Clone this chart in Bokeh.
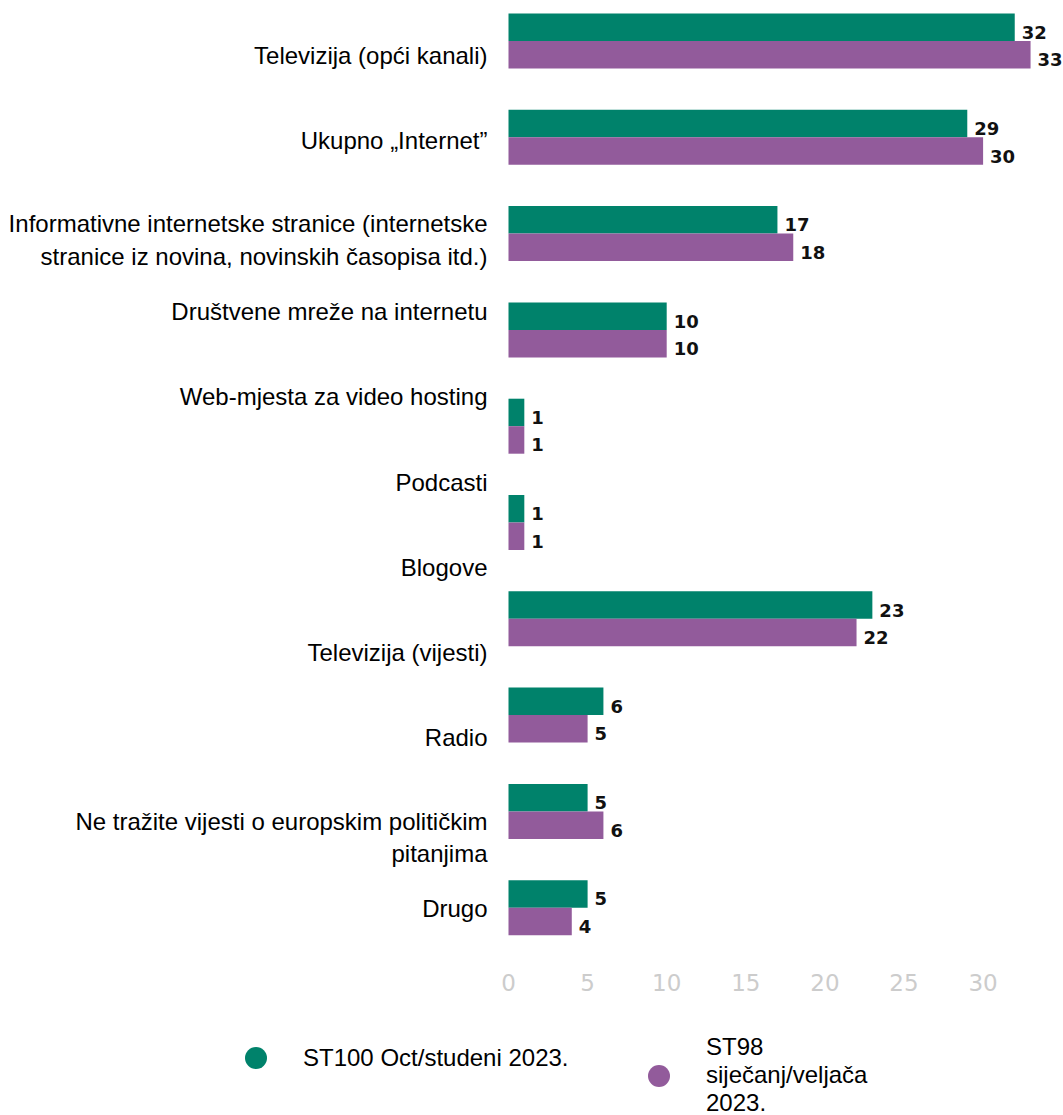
from bokeh.plotting import figure
from bokeh.models import ColumnDataSource, Range1d, Legend, LegendItem
from bokeh.transform import dodge
from bokeh.core.properties import value
from bokeh.embed import file_html
from bokeh.resources import INLINE

# ---------------- data ----------------
bar_groups = [
    "Televizija (opći kanali)",
    "Ukupno „Internet”",
    "Informativne internetske stranice",
    "Društvene mreže na internetu",
    "Web-mjesta za video hosting",
    "Podcasti",
    "Televizija (vijesti)",
    "Radio",
    "Ne tražite vijesti o europskim političkim pitanjima",
    "Drugo",
]
st100 = [32, 29, 17, 10, 1, 1, 23, 6, 5, 5]
st98 = [33, 30, 18, 10, 1, 1, 22, 5, 6, 4]

axis_labels = [
    "Televizija (opći kanali)",
    "Ukupno „Internet”",
    "Informativne internetske stranice (internetske\nstranice iz novina, novinskih časopisa itd.)",
    "Društvene mreže na internetu",
    "Web-mjesta za video hosting",
    "Podcasti",
    "Blogove",
    "Televizija (vijesti)",
    "Radio",
    "Ne tražite vijesti o europskim političkim\npitanjima",
    "Drugo",
]
x_ticks = [0, 5, 10, 15, 20, 25, 30]
series_names = ["ST100 Oct/studeni 2023.", "ST98\nsiječanj/veljača\n2023."]
colors = ["#00826b", "#925b9b"]

# ---------------- layout constants (pixels) ----------------
W, H = 1063, 1115
LEFT = 508          # x pixel of the value 0
PX_PER_UNIT = 15.82
FIRST_BAR_TOP = 13
STEP = 96.3         # px between bar groups
BAR_H = 27.5        # px per bar
LABEL_FIRST = 55    # px of first category label line
LABEL_STEP = 85.3   # px between label slots
LINE_SHIFT = 14     # px shift for two-line labels
TICK_Y = 982        # px of the value-axis labels

c0 = FIRST_BAR_TOP + BAR_H          # pixel of group 0 centre


def ypix(px):
    return (px - c0) / STEP         # pixel -> group-index units


x_start = -LEFT / PX_PER_UNIT
x_end = (W - LEFT) / PX_PER_UNIT
half = BAR_H / STEP / 2

p = figure(
    width=W, height=H, min_border=0,
    x_range=Range1d(x_start, x_end), y_range=Range1d(ypix(H), ypix(0)),
    x_axis_type=None, y_axis_type=None,
    output_backend="svg", toolbar_location=None,
)
p.xgrid.visible = False
p.ygrid.visible = False
p.outline_line_color = None

src = ColumnDataSource(dict(
    idx=list(range(len(bar_groups))),
    name=bar_groups,
    a=st100, b=st98,
    la=[str(v) for v in st100], lb=[str(v) for v in st98],
))

p.hbar(y=dodge("idx", -half, range=p.y_range), right="a", left=0, height=BAR_H / STEP,
       source=src, fill_color=colors[0], line_color=None)
p.hbar(y=dodge("idx", half, range=p.y_range), right="b", left=0, height=BAR_H / STEP,
       source=src, fill_color=colors[1], line_color=None)

for col, lcol, off in (("a", "la", -half), ("b", "lb", half)):
    p.text(x=col, y=dodge("idx", off, range=p.y_range), text=lcol, source=src,
           x_offset=7, y_offset=5, text_baseline="middle", text_align="left",
           text_font=value("DejaVu Sans"), text_font_style="bold",
           text_font_size="18px", text_color="#111111")

# category labels (left column)
lab_y = [ypix(LABEL_FIRST + LABEL_STEP * k + (LINE_SHIFT if "\n" in lab else 0))
         for k, lab in enumerate(axis_labels)]
lab_src = ColumnDataSource(dict(y=lab_y, x=[0] * len(axis_labels), t=axis_labels))
p.text(x="x", y="y", text="t", source=lab_src, x_offset=-21,
       text_align="right", text_baseline="middle", text_line_height=1.2,
       text_font=value("Liberation Sans"), text_font_size="24px", text_color="#000000")

# value-axis labels
tick_src = ColumnDataSource(dict(x=x_ticks, y=[ypix(TICK_Y)] * len(x_ticks),
                                 t=[str(v) for v in x_ticks]))
p.text(x="x", y="y", text="t", source=tick_src, text_align="center",
       text_baseline="middle", text_font=value("DejaVu Sans"),
       text_font_size="23px", text_color="#cccccc")

# legend: one block per series (proxies hold no drawable point)
nan = float("nan")
legend_spots = [(228, 30), (631, -2)]   # (left, bottom) offsets of each block, px
for name, colr, loc in zip(series_names, colors, legend_spots):
    r = p.scatter(x=[nan], y=[nan], marker="circle", fill_color=colr, line_color=None)
    lg = Legend(
        items=[LegendItem(label=name, renderers=[r])],
        orientation="horizontal", location=loc,
        glyph_width=55, glyph_height=55, label_standoff=20,
        padding=0, margin=0, border_line_color=None, background_fill_alpha=0,
        label_text_font="Liberation Sans", label_text_font_size="24px",
        label_text_line_height=1.1, label_text_color="#000000",
    )
    p.add_layout(lg, "center")

open("out.html", "w").write(file_html(p, INLINE))
